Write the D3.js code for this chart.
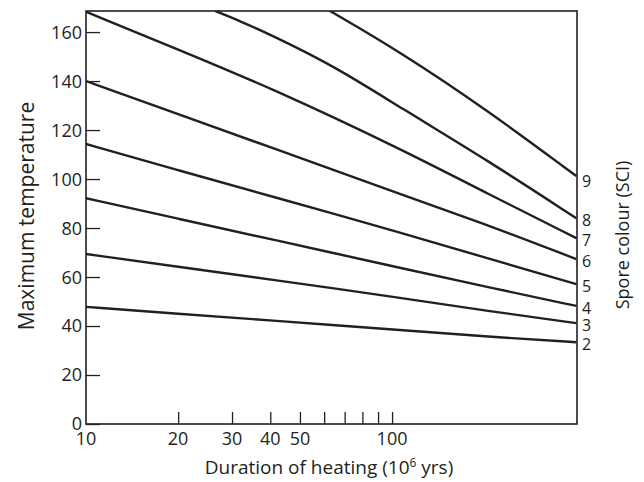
<!DOCTYPE html>
<html>
<head>
<meta charset="utf-8">
<script src="https://cdn.jsdelivr.net/npm/d3@7"></script>
<style>
  body { margin: 0; background: #fff; }
  svg { display: block; }
  text { font-family: "Open Sans", Lato, sans-serif; fill: #231f20; }
</style>
</head>
<body>
<svg id="chart" width="644" height="482"></svg>
<script>
// duration of heating (10^6 yrs) sample points for each curve
const durA = [10, 20, 40, 106, 206, 400];
const durB = [26.4, 32, 40, 65, 106, 206, 400];
const durC = [62.7, 106, 206, 400];

// max temperature
const sci2 = [47.8, 45.0, 42.3, 38.4, 35.6, 33.4];
const sci3 = [69.4, 64.2, 59.0, 51.6, 46.1, 41.2];
const sci4 = [92.2, 83.8, 75.5, 63.8, 55.8, 48.2];
const sci5 = [114.3, 103.6, 93.1, 78.2, 67.6, 57.1];
const sci6 = [140.0, 126.5, 113.0, 93.9, 81.2, 67.3];
const sci7 = [168.3, 152.9, 137.3, 112.5, 93.9, 75.9];
const sci8 = [168.6, 164.4, 159.0, 146.0, 129.3, 107.5, 84.0];
const sci9 = [168.6, 152.0, 127.9, 101.2];

const curves = [
  {label: "2", x: durA, y: sci2},
  {label: "3", x: durA, y: sci3},
  {label: "4", x: durA, y: sci4},
  {label: "5", x: durA, y: sci5},
  {label: "6", x: durA, y: sci6},
  {label: "7", x: durA, y: sci7},
  {label: "8", x: durB, y: sci8},
  {label: "9", x: durC, y: sci9}
];

const yTicks = [0, 20, 40, 60, 80, 100, 120, 140, 160];
const xTicks = [10, 20, 30, 40, 50, 60, 70, 80, 90, 100];
const xTickLabels = [10, 20, 30, 40, 50, 100];

const margin = {top: 11, right: 67, bottom: 58, left: 86};
const width = 644, height = 482;

const svg = d3.select("#chart");

const x = d3.scaleLog()
    .domain([10, 402])
    .range([margin.left, width - margin.right]);

const y = d3.scaleLinear()
    .domain([0, 168.6])
    .range([height - margin.bottom, margin.top]);

svg.append("defs").append("clipPath")
    .attr("id", "plot")
  .append("rect")
    .attr("x", margin.left)
    .attr("y", margin.top)
    .attr("width", width - margin.left - margin.right)
    .attr("height", height - margin.top - margin.bottom);

// curves - basis smooths out small reading errors, ends stay fixed
const line = d3.line()
    .x(d => x(d[0]))
    .y(d => y(d[1]))
    .curve(d3.curveBasis);

svg.append("g")
    .attr("clip-path", "url(#plot)")
  .selectAll("path")
  .data(curves)
  .join("path")
    .attr("d", c => line(c.x.map((v, i) => [v, c.y[i]])))
    .attr("fill", "none")
    .attr("stroke", "#231f20")
    .attr("stroke-width", 2.4);

// left axis, ticks pointing inward
const yAxis = svg.append("g")
    .attr("transform", `translate(${margin.left},0)`)
    .call(d3.axisRight(y).tickValues(yTicks).tickSize(14).tickFormat(""));
yAxis.select(".domain").remove();
yAxis.selectAll("line").attr("stroke", "#231f20").attr("stroke-width", 1.3);

svg.append("g")
  .selectAll("text")
  .data(yTicks)
  .join("text")
    .attr("x", margin.left - 4)
    .attr("y", d => y(d))
    .attr("dy", "0.36em")
    .attr("text-anchor", "end")
    .attr("font-size", 18)
    .text(d => d);

// bottom axis, ticks pointing up
const xAxis = svg.append("g")
    .attr("transform", `translate(0,${height - margin.bottom})`)
    .call(d3.axisTop(x).tickValues(xTicks.slice(1)).tickSize(12).tickFormat(""));
xAxis.select(".domain").remove();
xAxis.selectAll("line").attr("stroke", "#231f20").attr("stroke-width", 1.3);

svg.append("g")
  .selectAll("text")
  .data(xTickLabels)
  .join("text")
    .attr("x", d => x(d))
    .attr("y", height - margin.bottom + 21)
    .attr("text-anchor", "middle")
    .attr("font-size", 18)
    .text(d => d);

// frame
svg.append("rect")
    .attr("x", margin.left)
    .attr("y", margin.top)
    .attr("width", width - margin.left - margin.right)
    .attr("height", height - margin.top - margin.bottom)
    .attr("fill", "none")
    .attr("stroke", "#231f20")
    .attr("stroke-width", 1.6);

// SCI labels at right end of each curve
svg.append("g")
  .selectAll("text")
  .data(curves)
  .join("text")
    .attr("x", width - margin.right + 5)
    .attr("y", c => y(c.y[c.y.length - 1]) + (c.label === "9" ? 5 : 2))
    .attr("dy", "0.35em")
    .attr("font-size", 16)
    .text(c => c.label);

// axis titles
svg.append("text")
    .attr("transform", "translate(34,216) rotate(-90)")
    .attr("text-anchor", "middle")
    .attr("font-size", 21)
    .text("Maximum temperature");

const xt = svg.append("text")
    .attr("x", 329)
    .attr("y", 474)
    .attr("text-anchor", "middle")
    .attr("font-size", 19);
xt.append("tspan").text("Duration of heating (10");
xt.append("tspan").attr("font-size", 12).attr("dy", -7).text("6");
xt.append("tspan").attr("dy", 7).text(" yrs)");

svg.append("text")
    .attr("transform", "translate(629,235) rotate(-90)")
    .attr("text-anchor", "middle")
    .attr("font-size", 18)
    .text("Spore colour (SCI)");
</script>
</body>
</html>
